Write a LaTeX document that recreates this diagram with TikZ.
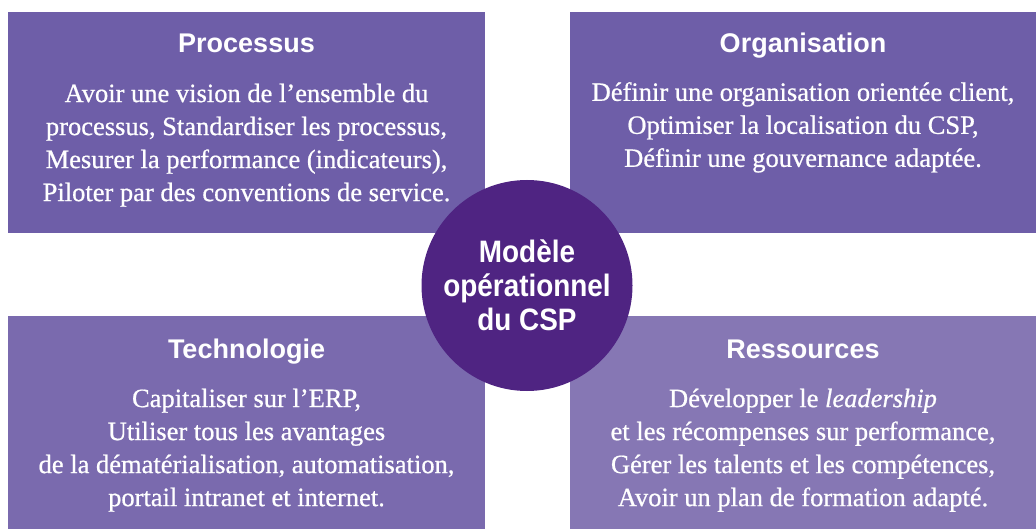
\documentclass[tikz,border=0pt]{standalone}
\usepackage{fontspec}
\setmainfont[FakeBold=0.7]{Liberation Serif}
\newfontfamily\headfont{Liberation Sans}
\newfontfamily\hubfont[FakeStretch=0.9]{Liberation Sans}
\usetikzlibrary{positioning}
\definecolor{violettop}{HTML}{6E5EA8}
\definecolor{violetleft}{HTML}{7A6AAE}
\definecolor{violetright}{HTML}{8677B4}
\definecolor{violethub}{HTML}{4F2482}
\tikzset{quad/.style = {rectangle, inner sep=0pt, anchor=north west}}
\tikzset{head/.style = {text=white, anchor=base, inner sep=0pt, font=\headfont\bfseries\fontsize{27}{32}\selectfont}}
\tikzset{body/.style = {text=white, anchor=north, align=center, inner sep=0pt, font=\fontsize{26.5}{33}\selectfont}}

\begin{document}
\begin{tikzpicture}[x=1pt,y=-1pt]
		\useasboundingbox (0,0) rectangle (1036,529);
		%draw the four quadrants
		\node[quad, fill=violettop, minimum width=477pt, minimum height=221pt](A) at (8,12){};
		\node[quad, fill=violettop, minimum width=466pt, minimum height=221pt](B) at (570,12){};
		\node[quad, fill=violetleft, minimum width=477pt, minimum height=213pt](C) at (8,316){};
		\node[quad, fill=violetright, minimum width=466pt, minimum height=213pt](D) at (570,316){};

		%titles
		\node[head](A1) at (246.5,53){Processus};
		\node[head](B1) at (803,53){Organisation};
		\node[head](C1) at (246.5,358){Technologie};
		\node[head](D1) at (803,358){Ressources};

		%texts of the quadrants
		\node[body](A2) at (246.5,83.5){Avoir une vision de l’ensemble du\\processus, Standardiser les processus,\\Mesurer la performance (indicateurs),\\Piloter par des conventions de service.};
		\node[body](B2) at (803,82){Définir une organisation orientée client,\\Optimiser la localisation du CSP,\\Définir une gouvernance adaptée.};
		\node[body](C2) at (246.5,388.5){Capitaliser sur l’ERP,\\Utiliser tous les avantages\\de la dématérialisation, automatisation,\\portail intranet et internet.};
		\node[body](D2) at (803,388.5){Développer le \textit{leadership}\\et les récompenses sur performance,\\Gérer les talents et les compétences,\\Avoir un plan de formation adapté.};

		%draw the circle in the middle
		\node[circle, fill=violethub, minimum size=211pt, inner sep=0pt, text=white, align=center,
			font=\hubfont\bfseries\fontsize{31}{34}\selectfont](E) at (527,285.5){Modèle\\opérationnel\\du CSP};
\end{tikzpicture}
\end{document}
